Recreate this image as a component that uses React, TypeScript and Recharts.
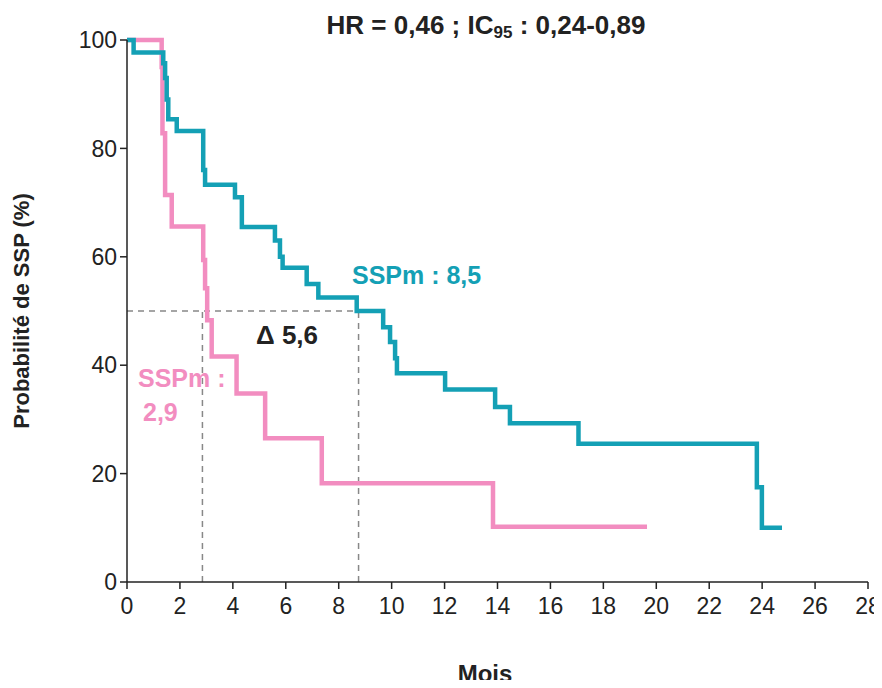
import React from "react";
import { LineChart, Line, XAxis, YAxis, ReferenceLine } from "recharts";

// Kaplan-Meier step points: months, PFS probability (%)
const tealMonths = [0, 0.25, 1.37, 1.44, 1.5, 1.56, 1.88, 2.88, 2.95, 4.08, 4.34, 5.59, 5.78, 5.88, 6.79, 7.23, 8.68, 9.68, 9.94, 10.13, 10.2, 12.02, 13.91, 14.47, 17.06, 23.8, 23.99, 24.75];
const tealValues = [100, 97.7, 95.7, 93, 89, 85.4, 83.2, 76, 73.3, 71, 65.5, 63, 60, 58, 55, 52.5, 50, 47, 44.3, 41.3, 38.5, 35.5, 32.3, 29.3, 25.5, 17.5, 10, 10];

const pinkMonths = [0, 1.31, 1.34, 1.44, 1.69, 2.88, 2.95, 3.03, 3.2, 4.14, 5.22, 7.36, 13.83, 19.65];
const pinkValues = [100, 95, 82.8, 71.4, 65.6, 59.4, 54.2, 48.3, 41.6, 34.8, 26.5, 18.2, 10.2, 10.2];

const xTicks = [0, 2, 4, 6, 8, 10, 12, 14, 16, 18, 20, 22, 24, 26, 28];
const yTicks = [0, 20, 40, 60, 80, 100];

const medianPink = 2.85;
const medianTeal = 8.75;

const TEAL = "#14A0B5";
const PINK = "#F28DC0";
const FONT = "'Liberation Sans', Arial, sans-serif";

const tealData = tealMonths.map((m, i) => ({ m, p: tealValues[i] }));
const pinkData = pinkMonths.map((m, i) => ({ m, p: pinkValues[i] }));

const textBase: React.CSSProperties = {
  position: "absolute",
  fontFamily: FONT,
  fontWeight: 700,
  lineHeight: 1,
  whiteSpace: "nowrap",
};

export default function App() {
  return (
    <div style={{ position: "relative", width: 874, height: 672 }}>
      <LineChart
        width={874}
        height={672}
        margin={{ top: 32, right: 14, bottom: 68, left: 0 }}
      >
        <XAxis
          type="number"
          dataKey="m"
          domain={[0, 28]}
          ticks={xTicks}
          interval={0}
          allowDataOverflow
          height={30}
          tickSize={7}
          tickMargin={9}
          stroke="#222"
          strokeWidth={1.5}
          tick={{ fill: "#222", fontSize: 23, fontFamily: FONT }}
        />
        <YAxis
          type="number"
          dataKey="p"
          domain={[0, 100]}
          ticks={yTicks}
          interval={0}
          width={119}
          tickSize={7}
          tickMargin={3}
          stroke="#222"
          strokeWidth={1.5}
          tick={{ fill: "#222", fontSize: 23, fontFamily: FONT }}
        />
        <ReferenceLine
          segment={[{ x: 0, y: 50 }, { x: medianTeal, y: 50 }]}
          stroke="#888"
          strokeWidth={1.5}
          strokeDasharray="6 5"
        />
        <ReferenceLine
          segment={[{ x: medianPink, y: 0 }, { x: medianPink, y: 50 }]}
          stroke="#888"
          strokeWidth={1.5}
          strokeDasharray="6 5"
        />
        <ReferenceLine
          segment={[{ x: medianTeal, y: 0 }, { x: medianTeal, y: 50 }]}
          stroke="#888"
          strokeWidth={1.5}
          strokeDasharray="6 5"
        />
        <Line
          data={pinkData}
          dataKey="p"
          type="stepAfter"
          stroke={PINK}
          strokeWidth={4.5}
          dot={false}
          isAnimationActive={false}
        />
        <Line
          data={tealData}
          dataKey="p"
          type="stepAfter"
          stroke={TEAL}
          strokeWidth={4.5}
          dot={false}
          isAnimationActive={false}
        />
      </LineChart>

      <div style={{ ...textBase, left: 478, top: 4, transform: "translateX(-50%)", fontSize: 26, color: "#222" }}>
        HR = 0,46 ; IC<sub style={{ fontSize: 17, verticalAlign: "-4px" }}>95</sub> : 0,24-0,89
      </div>
      <div style={{ ...textBase, left: 344, top: 255, fontSize: 25, color: TEAL }}>SSPm : 8,5</div>
      <div style={{ ...textBase, left: 248, top: 314, fontSize: 26, color: "#222" }}>Δ 5,6</div>
      <div style={{ ...textBase, left: 130, top: 358, fontSize: 25, color: PINK }}>SSPm :</div>
      <div style={{ ...textBase, left: 135, top: 392, fontSize: 25, color: PINK }}>2,9</div>
      <div style={{ ...textBase, left: 477, top: 654, transform: "translateX(-50%)", fontSize: 24, color: "#222" }}>Mois</div>
      <div
        style={{
          ...textBase,
          left: 14,
          top: 303,
          fontSize: 22,
          color: "#222",
          transform: "translate(-50%, -50%) rotate(-90deg)",
        }}
      >
        Probabilité de SSP (%)
      </div>
    </div>
  );
}
